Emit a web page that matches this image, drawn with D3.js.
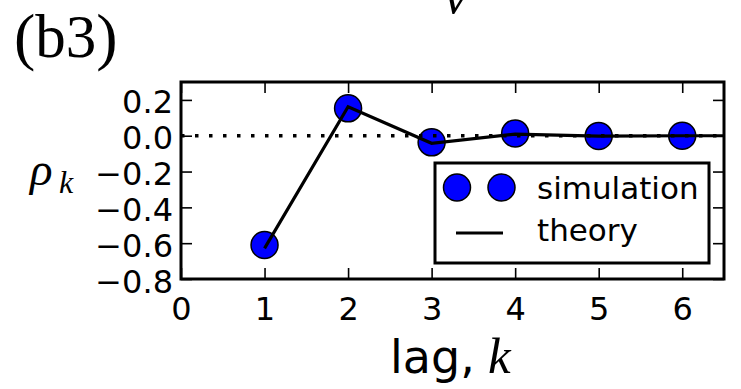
<!DOCTYPE html>
<html>
<head>
<meta charset="utf-8">
<script src="https://cdn.jsdelivr.net/npm/d3@7"></script>
<style>
  html, body { margin: 0; padding: 0; background: #fff; }
  svg { display: block; }
</style>
</head>
<body>
<svg id="chart" width="741" height="389"></svg>
<script>
// Autocorrelation at lag k: simulated estimates and theoretical curve
const simLags = [1, 2, 3, 4, 5, 6];
const simRho = [-0.61, 0.153, -0.037, 0.013, -0.001, 0.0];
const theoryLags = [1, 2, 3, 4, 5, 6, 7];
const theoryRho = [-0.629, 0.162, -0.042, 0.009, -0.002, 0.0, 0.0];
const xTicks = [0, 1, 2, 3, 4, 5, 6];
const yTicks = [0.2, 0.0, -0.2, -0.4, -0.6, -0.8];
const legendLabels = ["simulation", "theory"];

const svg = d3.select("#chart");
const plotLeft = 181, plotRight = 724, plotTop = 82, plotBottom = 279;

const x = d3.scaleLinear().domain([0, 6.5]).range([plotLeft, plotRight]);
const y = d3.scaleLinear().domain([-0.8, 0.3]).range([plotBottom, plotTop]);

const sans = "'DejaVu Sans', sans-serif";
const serif = "'Liberation Serif', 'DejaVu Serif', serif";
const tickLen = 11;
const fmt = d => (d < 0 ? "\u2212" : "") + Math.abs(d).toFixed(1);

// clip region for the plotted data
svg.append("clipPath").attr("id", "plotClip")
  .append("rect").attr("x", plotLeft).attr("y", plotTop)
  .attr("width", plotRight - plotLeft).attr("height", plotBottom - plotTop);

// axes: ticks point inward on all four sides
const gBottom = svg.append("g").attr("transform", `translate(0,${plotBottom})`)
  .call(d3.axisBottom(x).tickValues(xTicks).tickSize(-tickLen).tickFormat(d3.format("d")));
gBottom.selectAll("text").attr("y", 41).attr("dy", null)
  .style("font-family", sans).style("font-size", "32px").attr("fill", "#000");

const gTop = svg.append("g").attr("transform", `translate(0,${plotTop})`)
  .call(d3.axisTop(x).tickValues(xTicks).tickSize(-tickLen).tickFormat(""));

const gLeft = svg.append("g").attr("transform", `translate(${plotLeft},0)`)
  .call(d3.axisLeft(y).tickValues(yTicks).tickSize(-tickLen).tickFormat(fmt));
gLeft.selectAll("text").attr("x", -8).attr("dy", null).attr("y", 13)
  .style("font-family", sans).style("font-size", "32px").attr("fill", "#000");

const gRight = svg.append("g").attr("transform", `translate(${plotRight},0)`)
  .call(d3.axisRight(y).tickValues(yTicks).tickSize(-tickLen).tickFormat(""));

[gBottom, gTop, gLeft, gRight].forEach(g => {
  g.select(".domain").remove();
  g.selectAll(".tick line").attr("stroke", "#000").attr("stroke-width", 1.6);
});

const plot = svg.append("g").attr("clip-path", "url(#plotClip)");

// simulated estimates
plot.selectAll("circle.sim")
  .data(simLags.map((k, i) => ({ k, v: simRho[i] })))
  .join("circle").attr("class", "sim")
  .attr("cx", d => x(d.k)).attr("cy", d => y(d.v)).attr("r", 13.5)
  .attr("fill", "#0000ff").attr("stroke", "#000").attr("stroke-width", 1.5);

// zero reference line
plot.append("line")
  .attr("x1", x(0)).attr("x2", x(6.5)).attr("y1", y(0)).attr("y2", y(0))
  .attr("stroke", "#000").attr("stroke-width", 3.5).attr("stroke-dasharray", "3.5,10.5");

// theoretical autocorrelation
plot.append("path")
  .datum(theoryLags.map((k, i) => ({ k, v: theoryRho[i] })))
  .attr("d", d3.line().x(d => x(d.k)).y(d => y(d.v)))
  .attr("fill", "none").attr("stroke", "#000").attr("stroke-width", 3.2)
  .attr("stroke-linejoin", "miter");

// frame
svg.append("rect").attr("x", plotLeft).attr("y", plotTop)
  .attr("width", plotRight - plotLeft).attr("height", plotBottom - plotTop)
  .attr("fill", "none").attr("stroke", "#000").attr("stroke-width", 3);

// legend
const lg = svg.append("g");
lg.append("rect").attr("x", 435).attr("y", 163).attr("width", 274).attr("height", 100)
  .attr("fill", "#fff").attr("stroke", "#000").attr("stroke-width", 3);
[457, 501.5].forEach(cx => {
  lg.append("circle").attr("cx", cx).attr("cy", 187.5).attr("r", 13.5)
    .attr("fill", "#0000ff").attr("stroke", "#000").attr("stroke-width", 1.5);
});
lg.append("line").attr("x1", 456).attr("x2", 503).attr("y1", 233).attr("y2", 233)
  .attr("stroke", "#000").attr("stroke-width", 3.2);
lg.selectAll("text.lab").data(legendLabels).join("text").attr("class", "lab")
  .attr("x", 537).attr("y", (d, i) => i === 0 ? 199 : 241)
  .style("font-family", sans).style("font-size", "31px").attr("fill", "#000")
  .text(d => d);

// x-axis label: "lag, k"
const xl = svg.append("text").attr("x", 390).attr("y", 373).attr("fill", "#000");
xl.append("tspan").style("font-family", sans).style("font-size", "46px").text("lag,");
xl.append("tspan").attr("x", 488).style("font-family", serif).style("font-style", "italic")
  .style("font-size", "51px").text("k");

// y-axis label: rho_k
svg.append("text").attr("x", 30).attr("y", 185)
  .style("font-family", serif).style("font-style", "italic").style("font-size", "47px")
  .attr("fill", "#000").text("\u03c1");
svg.append("text").attr("x", 59).attr("y", 193)
  .style("font-family", serif).style("font-style", "italic").style("font-size", "32px")
  .attr("fill", "#000").text("k");

// panel tag
const tag = svg.append("text").attr("x", 14).attr("y", 58)
  .style("font-family", serif).attr("fill", "#000");
tag.append("tspan").style("font-size", "64px").text("(");
tag.append("tspan").style("font-size", "61px").attr("dy", -1).text("b3");
tag.append("tspan").style("font-size", "64px").attr("dy", 1).text(")");

// variable symbol from the heading above the panel
svg.append("text").attr("x", 444).attr("y", 13)
  .style("font-family", serif).style("font-style", "italic").style("font-size", "52px")
  .attr("fill", "#000").text("v");
</script>
</body>
</html>
